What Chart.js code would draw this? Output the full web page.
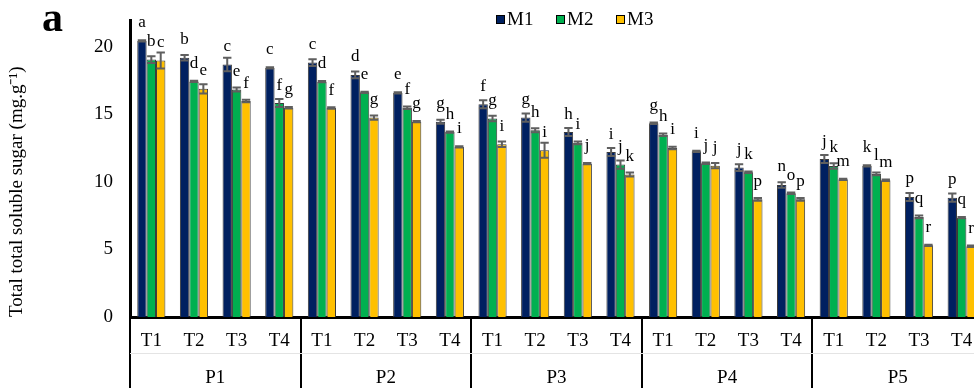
<!DOCTYPE html>
<html>
<head>
<meta charset="utf-8">
<script src="https://cdn.jsdelivr.net/npm/chart.js@4.4.1/dist/chart.umd.min.js"></script>
<style>
  html, body { margin: 0; padding: 0; overflow: hidden; background: #fff; width: 974px; height: 392px; }
  #wrap { position: absolute; left: 0; top: 0; width: 983px; height: 392px; }
</style>
</head>
<body>
<div id="wrap"><canvas id="c" width="983" height="392"></canvas></div>
<script>
// ---- data ----
const categories = ['T1','T2','T3','T4','T1','T2','T3','T4','T1','T2','T3','T4','T1','T2','T3','T4','T1','T2','T3','T4'];
const groups = ['P1','P2','P3','P4','P5'];
const seriesNames = ['M1','M2','M3'];
const m1 = [20.45, 19.2, 18.7, 18.45, 18.85, 17.93, 16.6, 14.47, 15.76, 14.77, 13.7, 12.22, 14.35, 12.27, 11.07, 9.78, 11.7, 11.19, 8.89, 8.84];
const m2 = [19.07, 17.45, 16.85, 15.85, 17.43, 16.64, 15.5, 13.7, 14.7, 13.83, 12.9, 11.29, 13.5, 11.39, 10.72, 9.17, 11.19, 10.6, 7.41, 7.36];
const m3 = [19.0, 16.9, 16.0, 15.5, 15.48, 14.77, 14.47, 12.6, 12.8, 12.35, 11.36, 10.55, 12.52, 11.21, 8.72, 8.72, 10.2, 10.13, 5.31, 5.24];
const m1Err = [0.05, 0.2, 0.5, 0.05, 0.25, 0.25, 0.05, 0.15, 0.3, 0.3, 0.3, 0.3, 0.05, 0.05, 0.25, 0.2, 0.3, 0.05, 0.3, 0.3];
const m2Err = [0.25, 0.05, 0.15, 0.3, 0.05, 0.05, 0.1, 0.05, 0.2, 0.15, 0.1, 0.3, 0.1, 0.05, 0.05, 0.05, 0.2, 0.1, 0.1, 0.05];
const m3Err = [0.6, 0.35, 0.1, 0.05, 0.05, 0.15, 0.05, 0.05, 0.2, 0.55, 0.05, 0.15, 0.1, 0.2, 0.1, 0.1, 0.05, 0.05, 0.05, 0.05];
const m1Letters = ['a','b','c','c','c','d','e','g','f','g','h','i','g','i','j','n','j','k','p','p'];
const m2Letters = ['b','d','e','f','d','e','f','h','g','h','i','j','h','j','k','o','k','l','q','q'];
const m3Letters = ['c','e','f','g','f','g','g','i','i','i','j','k','i','j','p','p','m','m','r','r'];
const yTicks = [0, 5, 10, 15, 20];
const yTitle = 'Total total soluble sugar (mg.g\u207B\u00B9)';
const panelLabel = 'a';

const colors = ['#002060', '#00B050', '#FFC000'];
const errors = [m1Err, m2Err, m3Err];
const letters = [m1Letters, m2Letters, m3Letters];
const FAMILY = "'Liberation Serif', 'Times New Roman', serif";

Chart.defaults.font.family = FAMILY;
Chart.defaults.color = '#000';

const annotPlugin = {
  id: 'annot',
  afterDatasetsDraw(chart) {
    const ctx = chart.ctx;
    const ys = chart.scales.y;
    ctx.save();
    chart.data.datasets.forEach((ds, di) => {
      const meta = chart.getDatasetMeta(di);
      meta.data.forEach((bar, i) => {
        const v = ds.data[i], e = errors[di][i];
        const yt = ys.getPixelForValue(v + e), yb = ys.getPixelForValue(v - e);
        const half = bar.width / 2 - 0.5;
        ctx.strokeStyle = '#5f5f5f';
        ctx.lineWidth = 2;
        ctx.beginPath();
        ctx.moveTo(bar.x, yt); ctx.lineTo(bar.x, yb);
        ctx.moveTo(bar.x - half, yt); ctx.lineTo(bar.x + half, yt);
        ctx.moveTo(bar.x - half, yb); ctx.lineTo(bar.x + half, yb);
        ctx.stroke();
        ctx.fillStyle = '#000';
        ctx.font = '17px ' + FAMILY;
        ctx.textAlign = 'center';
        ctx.textBaseline = 'alphabetic';
        ctx.fillText(letters[di][i], bar.x, bar.y - 13.5);
      });
    });
    ctx.restore();
  },
  afterDraw(chart) {
    const ctx = chart.ctx;
    ctx.save();
    // panel label
    ctx.fillStyle = '#000';
    ctx.font = 'bold 42px ' + FAMILY;
    ctx.textAlign = 'left';
    ctx.textBaseline = 'alphabetic';
    ctx.fillText(panelLabel, 42, 31);
    // legend
    let x = 496;
    ctx.font = '19px ' + FAMILY;
    chart.data.datasets.forEach((ds, di) => {
      ctx.fillStyle = ds.backgroundColor;
      ctx.fillRect(x, 15, 9, 9);
      ctx.strokeStyle = '#000';
      ctx.lineWidth = 1;
      ctx.strokeRect(x + 0.5, 15.5, 8, 8);
      ctx.fillStyle = '#000';
      ctx.fillText(ds.label, x + 11, 24.5);
      x += 60;
    });
    ctx.restore();
  }
};

new Chart(document.getElementById('c'), {
  type: 'bar',
  data: {
    labels: categories,
    datasets: [
      { label: seriesNames[0], data: m1, backgroundColor: colors[0] },
      { label: seriesNames[1], data: m2, backgroundColor: colors[1] },
      { label: seriesNames[2], data: m3, backgroundColor: colors[2] }
    ]
  },
  options: {
    responsive: false,
    animation: false,
    devicePixelRatio: 1,
    layout: { padding: { top: 20, left: 0, right: 0, bottom: 0 } },
    datasets: {
      bar: { categoryPercentage: 0.66, barPercentage: 1.0, borderColor: '#3a3a3a', borderWidth: 1 }
    },
    plugins: { legend: { display: false }, tooltip: { enabled: false } },
    scales: {
      x: {
        type: 'category',
        offset: true,
        grid: {
          display: true, drawOnChartArea: false, drawTicks: true, tickLength: 71, lineWidth: 2, offset: true,
          color: (c) => (c.index === undefined || c.index % 4 === 0) ? '#000' : 'rgba(0,0,0,0)'
        },
        border: { display: true, color: '#000', width: 3 },
        ticks: { font: { size: 19 }, color: '#000', padding: -58, maxRotation: 0, autoSkip: false },
        afterFit: (s) => { s.height = 36; s.paddingLeft = 0; s.paddingRight = 0; }
      },
      x2: {
        type: 'category',
        labels: groups,
        position: 'bottom',
        offset: true,
        grid: { display: true, drawOnChartArea: false, drawTicks: false, color: 'rgba(0,0,0,0)', offset: true },
        border: { display: true, color: '#e4e4e4', width: 1 },
        ticks: { font: { size: 19 }, color: '#000', padding: 14, maxRotation: 0, autoSkip: false },
        afterFit: (s) => { s.height = 39; s.paddingLeft = 0; s.paddingRight = 0; }
      },
      y: {
        min: 0, max: 22,
        position: 'left',
        afterBuildTicks: (s) => { s.ticks = yTicks.map(v => ({ value: v })); },
        grid: { display: false, drawTicks: false },
        border: { display: true, color: '#000', width: 3 },
        ticks: { font: { size: 19 }, color: '#000', padding: 17 },
        title: { display: true, text: yTitle, font: { size: 19 }, color: '#000', align: 'start', padding: { top: 6, bottom: 0 } },
        afterFit: (s) => { s.width = 130; s.paddingTop = 0; s.paddingBottom = 0; }
      }
    }
  },
  plugins: [annotPlugin]
});
</script>
</body>
</html>
